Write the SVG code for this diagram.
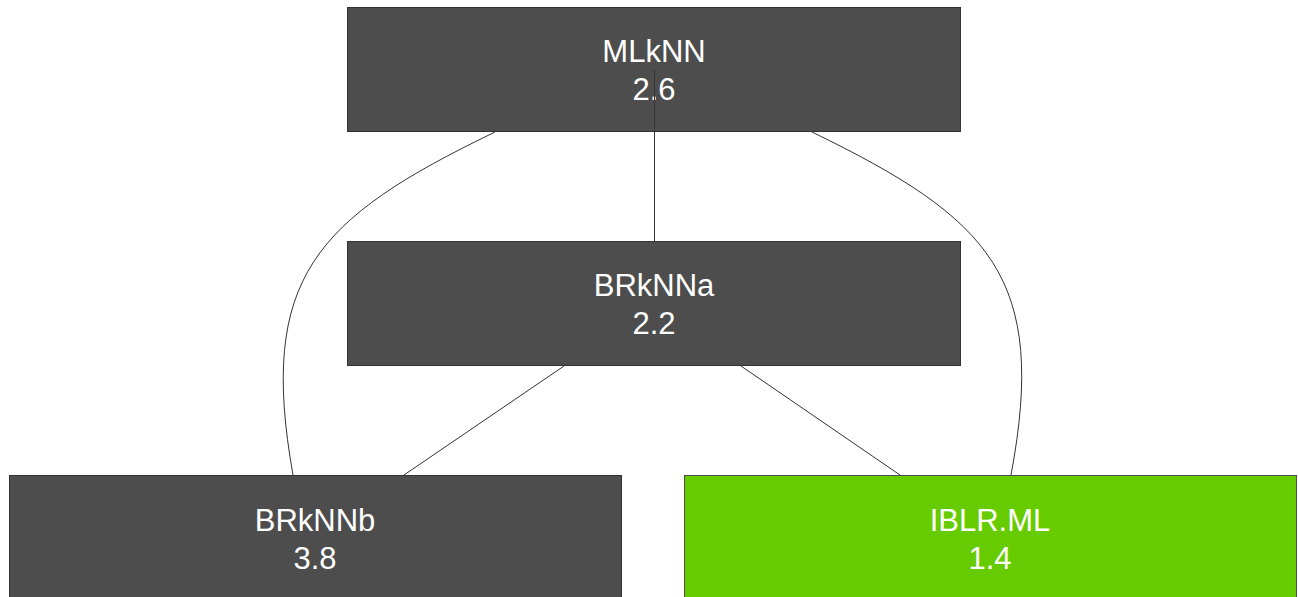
<svg xmlns="http://www.w3.org/2000/svg" width="1298" height="597" viewBox="0 0 1298 597">
  <style>
    .box { fill: #4d4d4d; stroke: #333333; stroke-width: 1; }
    .box.best { fill: #66cc00; stroke: #4d4d4d; }
    .label { font-family: "Liberation Sans", Arial, sans-serif; font-size: 31px; fill: #ffffff; text-anchor: middle; }
    .edge { fill: none; stroke: #333333; stroke-width: 1; }
  </style>
  <rect width="1298" height="597" fill="#ffffff"/>

  <!-- connectors between the methods -->
  <g id="connectors">
    <path class="edge" d="M495,132 C315,219 258,278 293,475"/>
    <path class="edge" d="M812,132 C991,219 1048,278 1011,475"/>
    <line class="edge" x1="564" y1="366" x2="404" y2="475"/>
    <line class="edge" x1="741" y1="366" x2="900" y2="475"/>
  </g>

  <g id="node-mlknn">
    <rect class="box" x="347.5" y="7.5" width="613" height="124"/>
    <text class="label" x="654" y="62">MLkNN</text>
    <text class="label" x="654" y="100">2.6</text>
  </g>

  <!-- link MLkNN -> BRkNNa, drawn over the upper box -->
  <g id="connector-top">
    <line class="edge" x1="654.5" y1="70" x2="654.5" y2="241"/>
  </g>

  <g id="node-brknna">
    <rect class="box" x="347.5" y="241.5" width="613" height="124"/>
    <text class="label" x="654" y="296">BRkNNa</text>
    <text class="label" x="654" y="334">2.2</text>
  </g>

  <g id="node-brknnb">
    <rect class="box" x="9.5" y="475.5" width="612" height="124"/>
    <text class="label" x="315" y="531">BRkNNb</text>
    <text class="label" x="315" y="569">3.8</text>
  </g>

  <g id="node-iblr-ml">
    <rect class="box best" x="684.5" y="475.5" width="612" height="124"/>
    <text class="label" x="990" y="531">IBLR.ML</text>
    <text class="label" x="990" y="569">1.4</text>
  </g>
</svg>
